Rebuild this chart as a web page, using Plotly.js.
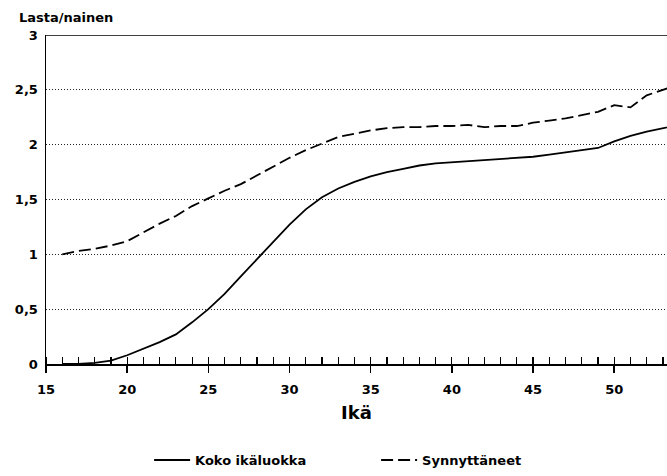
<!DOCTYPE html>
<html><head><meta charset="utf-8">
<script src="https://cdn.plot.ly/plotly-3.0.1.min.js"></script>
<style>html,body{margin:0;padding:0;background:#fff}</style>
</head><body>
<div id="chart" style="width:667px;height:476px"></div>
<script>
const ages = [16,17,18,19,20,21,22,23,24,25,26,27,28,29,30,31,32,33,34,35,36,37,38,39,40,41,42,43,44,45,46,47,48,49,50,51,52,53,54];
const kokoIkaluokka = [0,0,0.01,0.03,0.08,0.14,0.2,0.27,0.38,0.5,0.64,0.8,0.96,1.12,1.27,1.41,1.52,1.6,1.66,1.71,1.75,1.78,1.81,1.83,1.84,1.85,1.86,1.87,1.88,1.89,1.91,1.93,1.95,1.97,2.03,2.08,2.12,2.15,2.18];
const synnyttaneet = [1.0,1.03,1.05,1.08,1.12,1.2,1.28,1.35,1.44,1.51,1.58,1.64,1.72,1.8,1.88,1.95,2.01,2.07,2.1,2.13,2.15,2.16,2.16,2.17,2.17,2.18,2.16,2.17,2.17,2.2,2.22,2.24,2.27,2.3,2.36,2.34,2.45,2.5,2.55];
const yTickVals = [0,0.5,1,1.5,2,2.5,3];
const yTickText = ['0','0,5','1','1,5','2','2,5','3'];
const xTickVals = [15,20,25,30,35,40,45,50];
const xTickText = ['15','20','25','30','35','40','45','50'];

const fontFam = 'DejaVu Sans, Liberation Sans, Arial, sans-serif';
const traces = [
  {x: ages, y: kokoIkaluokka, name: 'Koko ikäluokka', mode: 'lines',
   line: {color: '#000', width: 1.8, dash: 'solid'}},
  {x: ages, y: synnyttaneet, name: 'Synnyttäneet', mode: 'lines',
   line: {color: '#000', width: 1.8, dash: '12px,5px'}}
];
const layout = {
  width: 667, height: 476,
  margin: {l: 46, r: 0, t: 35, b: 112},
  paper_bgcolor: '#fff', plot_bgcolor: '#fff',
  font: {family: fontFam, color: '#000', size: 13},
  showlegend: true,
  legend: {orientation: 'h', x: 0.166, xanchor: 'left', y: -0.292, yanchor: 'middle',
           font: {family: fontFam, size: 13, color: '#000', weight: 'bold'},
           entrywidth: 176, entrywidthmode: 'pixels', itemwidth: 36, tracegroupgap: 0},
  xaxis: {range: [15, 53.25], tickvals: xTickVals, ticktext: xTickText,
          showgrid: false, zeroline: false, showline: true, linecolor: '#000', linewidth: 1.5,
          ticks: 'outside', ticklen: 7, tickwidth: 1.5, tickcolor: '#000', ticklabelstandoff: 6,
          minor: {dtick: 1, tick0: 15, ticks: 'inside', ticklen: 7, tickwidth: 1.2, tickcolor: '#000', showgrid: false},
          tickfont: {family: fontFam, size: 13, color: '#000', weight: 'bold'},
          title: {text: 'Ikä', font: {family: fontFam, size: 18, color: '#000', weight: 'bold'}, standoff: 10}},
  yaxis: {range: [0, 3], tickvals: yTickVals, ticktext: yTickText,
          showgrid: true, gridcolor: '#222', griddash: '1px,2px', gridwidth: 1,
          zeroline: false, showline: true, linecolor: '#000', linewidth: 1.5,
          ticks: '', ticklabelstandoff: 4,
          tickfont: {family: fontFam, size: 13, color: '#000', weight: 'bold'}},
  shapes: [{type: 'line', xref: 'paper', yref: 'y', x0: 0, x1: 1, y0: 3, y1: 3,
            line: {color: '#000', width: 1.5}}],
  annotations: [{text: 'Lasta/nainen', xref: 'paper', yref: 'paper', x: -0.047, y: 1.025,
                 xanchor: 'left', yanchor: 'bottom', showarrow: false,
                 font: {family: fontFam, size: 13, color: '#000', weight: 'bold'}}]
};
Plotly.newPlot('chart', traces, layout, {displayModeBar: false, staticPlot: true});
</script>
</body></html>
